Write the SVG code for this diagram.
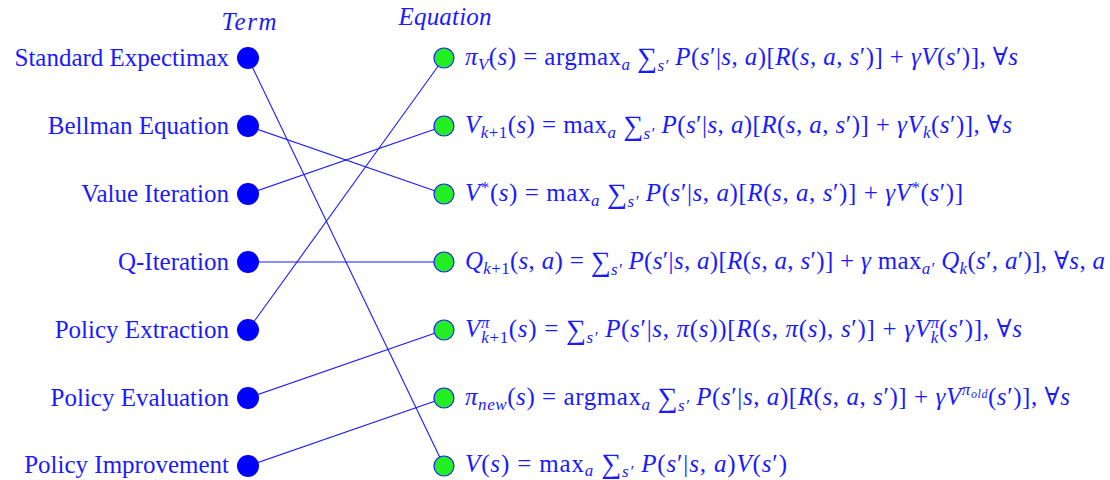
<svg xmlns="http://www.w3.org/2000/svg" width="1110" height="480" viewBox="0 0 1110 480">
<style>
.t{font-family:"Liberation Serif","DejaVu Serif",serif;font-size:25px;fill:#1a1aff}
.lbl{text-anchor:end}
.i{font-style:italic}
.s{font-size:17px}
.ss{font-size:12px}
.sum{font-size:28px}
.ttl{font-style:italic;text-anchor:middle;font-size:25px}
.term{fill:#0000ff}
.eqn{fill:#22ee22;stroke:#2020ff;stroke-width:1.2}
.edge{stroke:#1a1aff;stroke-width:1.1;fill:none}
</style>
<rect width="1110" height="480" fill="#ffffff"/>
<text class="t ttl" x="249" y="30" textLength="55" lengthAdjust="spacing">Term</text>
<text class="t ttl" x="445" y="25" textLength="93" lengthAdjust="spacing">Equation</text>
<g id="connectors">
<line class="edge" x1="248" y1="58" x2="444" y2="466"/>
<line class="edge" x1="248" y1="126" x2="444" y2="194"/>
<line class="edge" x1="248" y1="194" x2="444" y2="126"/>
<line class="edge" x1="248" y1="262" x2="444" y2="262"/>
<line class="edge" x1="248" y1="330" x2="444" y2="58"/>
<line class="edge" x1="248" y1="398" x2="444" y2="330"/>
<line class="edge" x1="248" y1="466" x2="444" y2="398"/>
</g>
<g id="term-standard-expectimax"><circle class="term" cx="248" cy="58" r="11"/><text class="t lbl" x="229" y="66">Standard Expectimax</text></g>
<g id="term-bellman-equation"><circle class="term" cx="248" cy="126" r="11"/><text class="t lbl" x="229" y="134">Bellman Equation</text></g>
<g id="term-value-iteration"><circle class="term" cx="248" cy="194" r="11"/><text class="t lbl" x="229" y="202">Value Iteration</text></g>
<g id="term-q-iteration"><circle class="term" cx="248" cy="262" r="11"/><text class="t lbl" x="229" y="270">Q-Iteration</text></g>
<g id="term-policy-extraction"><circle class="term" cx="248" cy="330" r="11"/><text class="t lbl" x="229" y="338">Policy Extraction</text></g>
<g id="term-policy-evaluation"><circle class="term" cx="248" cy="398" r="11"/><text class="t lbl" x="229" y="406">Policy Evaluation</text></g>
<g id="term-policy-improvement"><circle class="term" cx="248" cy="466" r="11"/><text class="t lbl" x="229" y="473">Policy Improvement</text></g>
<g id="eq-policy-extraction"><circle class="eqn" cx="444" cy="58" r="10"/><text class="t" x="465" y="65" textLength="553" lengthAdjust="spacing"><tspan class="i">π</tspan><tspan class="i s" dy="5">V</tspan><tspan dy="-5">(</tspan><tspan class="i">s</tspan>) = argmax<tspan class="i s" dy="5">a</tspan><tspan dy="-5"> </tspan><tspan class="sum" dy="2">∑</tspan><tspan class="i s" dy="4">s′</tspan><tspan dy="-6"> </tspan><tspan class="i">P</tspan>(<tspan class="i">s</tspan>′|<tspan class="i">s</tspan>, <tspan class="i">a</tspan>)[<tspan class="i">R</tspan>(<tspan class="i">s</tspan>, <tspan class="i">a</tspan>, <tspan class="i">s</tspan>′)] + <tspan class="i">γV</tspan>(<tspan class="i">s</tspan>′)], ∀<tspan class="i">s</tspan></text></g>
<g id="eq-value-iteration"><circle class="eqn" cx="444" cy="126" r="10"/><text class="t" x="465" y="133" textLength="547" lengthAdjust="spacing"><tspan class="i">V</tspan><tspan class="i s" dy="5">k</tspan><tspan class="s">+1</tspan><tspan dy="-5">(</tspan><tspan class="i">s</tspan>) = max<tspan class="i s" dy="5">a</tspan><tspan dy="-5"> </tspan><tspan class="sum" dy="2">∑</tspan><tspan class="i s" dy="4">s′</tspan><tspan dy="-6"> </tspan><tspan class="i">P</tspan>(<tspan class="i">s</tspan>′|<tspan class="i">s</tspan>, <tspan class="i">a</tspan>)[<tspan class="i">R</tspan>(<tspan class="i">s</tspan>, <tspan class="i">a</tspan>, <tspan class="i">s</tspan>′)] + <tspan class="i">γV</tspan><tspan class="i s" dy="5">k</tspan><tspan dy="-5">(</tspan><tspan class="i">s</tspan>′)], ∀<tspan class="i">s</tspan></text></g>
<g id="eq-bellman"><circle class="eqn" cx="444" cy="194" r="10"/><text class="t" x="465" y="201" textLength="498" lengthAdjust="spacing"><tspan class="i">V</tspan><tspan class="s" dy="-8">*</tspan><tspan dy="8">(</tspan><tspan class="i">s</tspan>) = max<tspan class="i s" dy="5">a</tspan><tspan dy="-5"> </tspan><tspan class="sum" dy="2">∑</tspan><tspan class="i s" dy="4">s′</tspan><tspan dy="-6"> </tspan><tspan class="i">P</tspan>(<tspan class="i">s</tspan>′|<tspan class="i">s</tspan>, <tspan class="i">a</tspan>)[<tspan class="i">R</tspan>(<tspan class="i">s</tspan>, <tspan class="i">a</tspan>, <tspan class="i">s</tspan>′)] + <tspan class="i">γV</tspan><tspan class="s" dy="-8">*</tspan><tspan dy="8">(</tspan><tspan class="i">s</tspan>′)]</text></g>
<g id="eq-q-iteration"><circle class="eqn" cx="444" cy="262" r="10"/><text class="t" x="465" y="269" textLength="640" lengthAdjust="spacing"><tspan class="i">Q</tspan><tspan class="i s" dy="5">k</tspan><tspan class="s">+1</tspan><tspan dy="-5">(</tspan><tspan class="i">s</tspan>, <tspan class="i">a</tspan>) = <tspan class="sum" dy="2">∑</tspan><tspan class="i s" dy="4">s′</tspan><tspan dy="-6"> </tspan><tspan class="i">P</tspan>(<tspan class="i">s</tspan>′|<tspan class="i">s</tspan>, <tspan class="i">a</tspan>)[<tspan class="i">R</tspan>(<tspan class="i">s</tspan>, <tspan class="i">a</tspan>, <tspan class="i">s</tspan>′)] + <tspan class="i">γ</tspan> max<tspan class="i s" dy="5">a′</tspan><tspan dy="-5"> </tspan><tspan class="i">Q</tspan><tspan class="i s" dy="5">k</tspan><tspan dy="-5">(</tspan><tspan class="i">s</tspan>′, <tspan class="i">a</tspan>′)], ∀<tspan class="i">s</tspan>, <tspan class="i">a</tspan></text></g>
<g id="eq-policy-evaluation"><circle class="eqn" cx="444" cy="330" r="10"/><text class="t" x="465" y="337" textLength="557" lengthAdjust="spacing"><tspan class="i">V</tspan><tspan class="i s" dy="-9">π</tspan><tspan class="i s" dx="-9" dy="15">k</tspan><tspan class="s">+1</tspan><tspan dy="-6">(</tspan><tspan class="i">s</tspan>) = <tspan class="sum" dy="2">∑</tspan><tspan class="i s" dy="4">s′</tspan><tspan dy="-6"> </tspan><tspan class="i">P</tspan>(<tspan class="i">s</tspan>′|<tspan class="i">s</tspan>, <tspan class="i">π</tspan>(<tspan class="i">s</tspan>))[<tspan class="i">R</tspan>(<tspan class="i">s</tspan>, <tspan class="i">π</tspan>(<tspan class="i">s</tspan>), <tspan class="i">s</tspan>′)] + <tspan class="i">γV</tspan><tspan class="i s" dy="-9">π</tspan><tspan class="i s" dx="-9" dy="15">k</tspan><tspan dy="-6">(</tspan><tspan class="i">s</tspan>′)], ∀<tspan class="i">s</tspan></text></g>
<g id="eq-policy-improvement"><circle class="eqn" cx="444" cy="398" r="10"/><text class="t" x="465" y="405" textLength="605" lengthAdjust="spacing"><tspan class="i">π</tspan><tspan class="i s" dy="5">new</tspan><tspan dy="-5">(</tspan><tspan class="i">s</tspan>) = argmax<tspan class="i s" dy="5">a</tspan><tspan dy="-5"> </tspan><tspan class="sum" dy="2">∑</tspan><tspan class="i s" dy="4">s′</tspan><tspan dy="-6"> </tspan><tspan class="i">P</tspan>(<tspan class="i">s</tspan>′|<tspan class="i">s</tspan>, <tspan class="i">a</tspan>)[<tspan class="i">R</tspan>(<tspan class="i">s</tspan>, <tspan class="i">a</tspan>, <tspan class="i">s</tspan>′)] + <tspan class="i">γV</tspan><tspan class="i s" dy="-10">π</tspan><tspan class="i ss" dy="3">old</tspan><tspan dy="7">(</tspan><tspan class="i">s</tspan>′)], ∀<tspan class="i">s</tspan></text></g>
<g id="eq-standard-expectimax"><circle class="eqn" cx="444" cy="466" r="10"/><text class="t" x="465" y="472" textLength="322" lengthAdjust="spacing"><tspan class="i">V</tspan>(<tspan class="i">s</tspan>) = max<tspan class="i s" dy="4">a</tspan><tspan dy="-4"> </tspan><tspan class="sum" dy="1">∑</tspan><tspan class="i s" dy="4">s′</tspan><tspan dy="-5"> </tspan><tspan class="i">P</tspan>(<tspan class="i">s</tspan>′|<tspan class="i">s</tspan>, <tspan class="i">a</tspan>)<tspan class="i">V</tspan>(<tspan class="i">s</tspan>′)</text></g>
</svg>
